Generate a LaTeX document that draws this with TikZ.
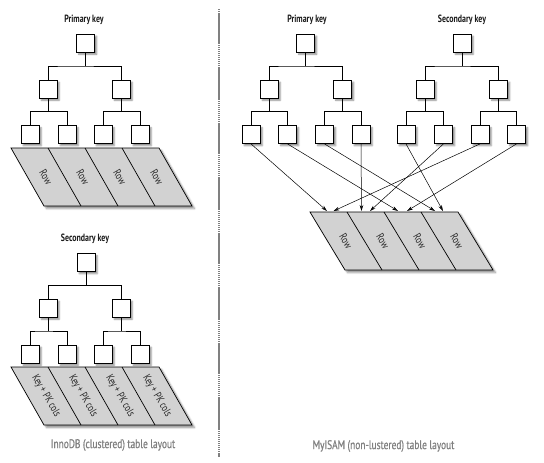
\documentclass[tikz,border=0pt]{standalone}
\usepackage{fontspec}
\setmainfont{PT Sans}
\newfontfamily\condfont[FakeStretch=0.75]{PT Sans}
\newfontfamily\capfont[FakeStretch=0.75,FakeBold=0.8]{PT Sans}
\usetikzlibrary{calc,arrows.meta,shadows.blur}
\newcommand\kidsconn[3]{%
  \draw[tree] (#1.south) -- ($(#1.south)!.5!(#1.south |- #2.north)$);
  \draw[tree] (#2.north) |- ($(#1.south)!.5!(#2.north)$) -| (#3.north);}
\begin{document}
\begin{tikzpicture}[x=1pt,y=-1pt,
  kbox/.style={draw, fill=white, line width=0.8pt, minimum size=18pt, inner sep=0pt,
    blur shadow={shadow xshift=2.2pt, shadow yshift=-2.2pt, shadow blur radius=1.6pt, shadow opacity=45}},
  title/.style={font=\condfont\fontsize{10.5}{12}\selectfont\bfseries, text=black!90},
  caption/.style={font=\capfont\fontsize{12.5}{14}\selectfont, text=black!50},
  rowtxt/.style={font=\condfont\fontsize{11}{12}\selectfont, rotate=-59.6, text=black!85, inner sep=0pt},
  tree/.style={line width=0.7pt},
  ptr/.style={line width=0.5pt, -{Stealth[length=6pt,width=3.6pt]}},
  band/.style={draw, line width=0.7pt, fill=gray!35,
    blur shadow={shadow xshift=2.5pt, shadow yshift=-2.5pt, shadow blur radius=1.8pt, shadow opacity=45}},
  cellline/.style={line width=0.7pt},
  divider/.style={draw=black!50, line width=1.2pt}
]
\useasboundingbox (0,0) rectangle (544,463);

% ---------- divider
\draw[divider, dash pattern=on 1pt off 1pt] (219,9) -- (219,457);
\draw[divider, dash pattern=on 31pt off 24pt] (219,13) -- (219,457);

% ---------- left: primary key tree (clustered)
\node[title] (tA) at (84,20) {Primary key};
\node[kbox] (a0) at (85.5,43) {};
\node[kbox] (a1) at (48,89) {};
\node[kbox] (a2) at (121,89) {};
\node[kbox] (a3) at (30,134.5) {};
\node[kbox] (a4) at (67,134.5) {};
\node[kbox] (a5) at (103,134.5) {};
\node[kbox] (a6) at (140,134.5) {};
\kidsconn{a0}{a1}{a2}
\kidsconn{a1}{a3}{a4}
\kidsconn{a2}{a5}{a6}
\path[band] (11,148) -- (159,148) -- (192,206) -- (44,206) -- cycle;
\foreach \x in {48,85,122} \draw[cellline] (\x,148) -- (\x+33,206);
\foreach \x/\n in {46/1,83/2,120/3,157/4}
  \node[rowtxt] (ra\n) at (\x,177) {Row};

% ---------- left: secondary key tree (clustered)
\node[title] (tB) at (85,239) {Secondary key};
\node[kbox] (b0) at (86,262.5) {};
\node[kbox] (b1) at (48,308) {};
\node[kbox] (b2) at (121,308) {};
\node[kbox] (b3) at (30,354) {};
\node[kbox] (b4) at (67,354) {};
\node[kbox] (b5) at (103,354) {};
\node[kbox] (b6) at (140,354) {};
\kidsconn{b0}{b1}{b2}
\kidsconn{b1}{b3}{b4}
\kidsconn{b2}{b5}{b6}
\path[band] (11,367) -- (159,367) -- (192,425) -- (44,425) -- cycle;
\foreach \x in {48,85,122} \draw[cellline] (\x,367) -- (\x+33,425);
\foreach \x/\n in {46/1,83/2,120/3,157/4}
  \node[rowtxt] (rb\n) at (\x,396) {Key + PK cols};

\node[caption] (capL) at (113,445) {InnoDB (clustered) table layout};

% ---------- right: primary key tree (MyISAM)
\node[title] (tP) at (307,20) {Primary key};
\node[kbox] (p0) at (305.5,43) {};
\node[kbox] (p1) at (269,89) {};
\node[kbox] (p2) at (342.5,89) {};
\node[kbox] (p3) at (251,134.5) {};
\node[kbox] (p4) at (287.5,134.5) {};
\node[kbox] (p5) at (324.5,134.5) {};
\node[kbox] (p6) at (361,134.5) {};
\kidsconn{p0}{p1}{p2}
\kidsconn{p1}{p3}{p4}
\kidsconn{p2}{p5}{p6}

% ---------- right: secondary key tree (MyISAM)
\node[title] (tS) at (462,20) {Secondary key};
\node[kbox] (s0) at (462,43) {};
\node[kbox] (s1) at (425,89) {};
\node[kbox] (s2) at (498.5,89) {};
\node[kbox] (s3) at (406,134.5) {};
\node[kbox] (s4) at (443.5,134.5) {};
\node[kbox] (s5) at (480,134.5) {};
\node[kbox] (s6) at (516.5,134.5) {};
\kidsconn{s0}{s1}{s2}
\kidsconn{s1}{s3}{s4}
\kidsconn{s2}{s5}{s6}

% ---------- right: rows
\path[band] (310,212) -- (458,212) -- (493,270) -- (345,270) -- cycle;
\foreach \x in {347,384,421} \draw[cellline] (\x,212) -- (\x+35,270);
\foreach \x/\n in {346/1,383/2,420/3,457/4}
  \node[rowtxt] (rc\n) at (\x,241) {Row};

\coordinate (e1) at (327,211);
\coordinate (e2) at (333.5,211);
\coordinate (e3) at (361.5,211);
\coordinate (e4) at (370,211);
\coordinate (e5) at (398,211);
\coordinate (e6) at (407,211);
\coordinate (e7) at (435,211);
\coordinate (e8) at (443,211);

\draw[ptr] (p3.south) -- (e1);
\draw[ptr] (p4.south) -- (e5);
\draw[ptr] (p5.south) -- (e7);
\draw[ptr] (p6.south) -- (e3);
\draw[ptr] (s3.south) -- (e8);
\draw[ptr] (s4.south) -- (e4);
\draw[ptr] (s5.south) -- (e2);
\draw[ptr] (s6.south) -- (e6);

\node[caption] (capR) at (383.5,446) {MyISAM (non-lustered) table layout};
\end{tikzpicture}
\end{document}
